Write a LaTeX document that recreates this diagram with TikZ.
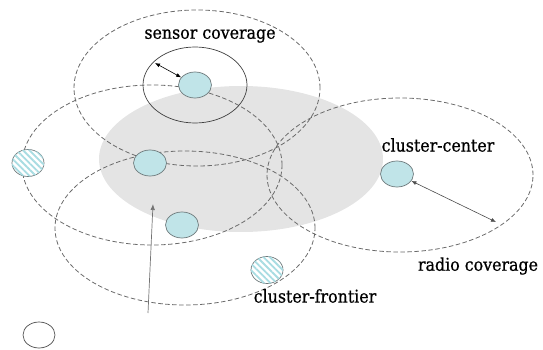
\documentclass[tikz,border=0pt]{standalone}
\usepackage{fontspec}
\newfontfamily\labelfont[FakeBold=0.7]{DejaVu Serif Condensed}
\usetikzlibrary{shapes.geometric,arrows.meta,patterns.meta}
\definecolor{areagray}{HTML}{E4E4E4}
\definecolor{nodecyan}{HTML}{C0E4E8}
\definecolor{nodeedge}{HTML}{6E7A7C}
\definecolor{hatchcyan}{HTML}{A8DCE2}
\definecolor{rangegray}{HTML}{6A6A6A}
\tikzset{
  rangeline/.style={draw=rangegray, line width=0.8pt, dash pattern=on 4.5pt off 2.5pt},
  sensorline/.style={draw=black!75, line width=0.7pt},
  cnode/.style={ellipse, draw=nodeedge, line width=0.7pt, fill=nodecyan,
    minimum width=33pt, minimum height=26pt, inner sep=0pt},
  hnode/.style={ellipse, draw=nodeedge, line width=0.7pt, fill=white,
    minimum width=32pt, minimum height=27pt, inner sep=0pt,
    postaction={pattern={Lines[angle=-45,distance=4.5pt,line width=1.8pt]}, pattern color=hatchcyan}},
  wnode/.style={ellipse, draw=black!70, line width=0.7pt, fill=white,
    minimum width=32pt, minimum height=26pt, inner sep=0pt},
  lbl/.style={font=\labelfont\fontsize{17.6}{21}\selectfont, inner sep=0pt, text=black},
  dbl/.style={line width=0.6pt, {Latex[length=5pt,width=4pt]}-{Latex[length=5pt,width=4pt]}},
}
\begin{document}
\begin{tikzpicture}[x=1pt,y=-1pt]
\useasboundingbox (0,0) rectangle (543,350);

% shaded cluster region
\fill[areagray] (241,159) ellipse [x radius=142pt, y radius=73pt];

% radio coverage ranges
\draw[rangeline] (197,88) ellipse [x radius=123pt, y radius=78pt];
\draw[rangeline] (152,165) ellipse [x radius=130pt, y radius=80pt];
\draw[rangeline] (185,228) ellipse [x radius=130pt, y radius=77pt];
\draw[rangeline] (400,175) ellipse [x radius=133pt, y radius=77pt];

% sensing range
\draw[sensorline] (195,85) ellipse [x radius=52pt, y radius=38pt];

% sensor nodes
\node[cnode] (S)  at (195,85)  {};
\node[cnode] (N1) at (150,163) {};
\node[cnode] (N2) at (182,225) {};
\node[cnode] (C)  at (397,174) {};
\node[hnode] (F1) at (28,163)  {};
\node[hnode] (F2) at (267,270) {};
\node[wnode] (W)  at (39,335)  {};

% range arrows
\coordinate (sa) at (155,63);
\draw[dbl, black] (sa) -- (S);
\coordinate (ra) at (496,222);
\draw[dbl, black!70] (C) -- (ra);
\coordinate (pb) at (148,313);
\coordinate (pt) at (153,204);
\draw[line width=0.7pt, black!55, -{Latex[length=6pt,width=4.5pt]}] (pb) -- (pt);

% labels
\node[lbl] (ls) at (210,36)  {sensor coverage};
\node[lbl] (lc) at (438,145) {cluster-center};
\node[lbl] (lr) at (478,266) {radio coverage};
\node[lbl] (lf) at (315,296) {cluster-frontier};
\end{tikzpicture}
\end{document}
